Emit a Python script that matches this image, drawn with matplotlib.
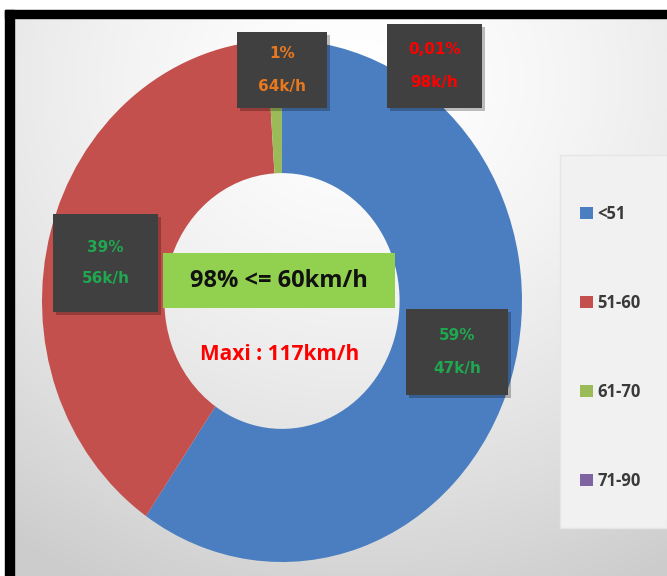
#!/usr/bin/env python3

import numpy as np
import matplotlib
matplotlib.use("Agg")
import matplotlib.pyplot as plt
from matplotlib.patches import Rectangle

# speed classes (km/h) and share of vehicles
classes = ["<51", "51-60", "61-70", "71-90"]
shares = [59, 39, 1, 0.01]
colors = ["#4A7EC0", "#C4504D", "#9BBB59", "#8064A2"]

# data labels: percentage text, mean speed text, text colour
pct_labels = ["59%", "39%", "1%", "0,01%"]
speed_labels = ["47k/h", "56k/h", "64k/h", "98k/h"]
label_colors = ["#1FA84F", "#1FA84F", "#E8791E", "#FF0000"]
# box of each label in pixels (left, top, right, bottom), dragged by hand in the original
label_boxes = [(406, 309, 508, 395), (53, 214, 158, 312), (237, 32, 327, 108), (387, 24, 482, 108)]

W, H = 667, 576
fig = plt.figure(figsize=(W / 100, H / 100), dpi=100)


def fx(x):
    return x / W


def fy(y):
    return 1 - y / H


# background gradient
bg = fig.add_axes([0, 0, 1, 1], zorder=0)
yy, xx = np.mgrid[0:H, 0:W]
d = np.sqrt(((xx - 360) / 1.1) ** 2 + (yy - 80) ** 2) / 560
shade = np.clip(1.0 - 0.2 * d ** 1.5, 0.8, 1.0)
bg.imshow(np.dstack([shade] * 3), extent=[0, W, H, 0], aspect="auto")
bg.set_xlim(0, W)
bg.set_ylim(H, 0)
bg.axis("off")

# white margin and thick black frame
fig.patches.append(Rectangle((0, fy(10)), 1, 1, transform=fig.transFigure, color="white", zorder=1))
fig.patches.append(Rectangle((0, 0), fx(5), 1, transform=fig.transFigure, color="white", zorder=1))
fig.patches.append(Rectangle((fx(5), 0), fx(9), fy(10), transform=fig.transFigure, color="black", zorder=1))
fig.patches.append(Rectangle((fx(5), fy(18)), 1, fy(10) - fy(18), transform=fig.transFigure, color="black", zorder=1))

# legend panel
fig.patches.append(Rectangle((fx(560), fy(528)), fx(667 - 560), fy(155) - fy(528),
                             transform=fig.transFigure, facecolor="#F1F1F1", edgecolor="#E6E6E6", zorder=1))

# donut (slightly taller than wide in the original)
cx, cy, rx, ry = 282, 301, 240, 261
ax = fig.add_axes([fx(cx - rx), fy(cy + ry), 2 * rx / W, 2 * ry / H], zorder=2)
wedges, _ = ax.pie(shares, colors=colors, startangle=90, counterclock=False, radius=1,
                   wedgeprops=dict(width=0.51, linewidth=0))
ax.set_aspect("auto")
ax.set_xlim(-1, 1)
ax.set_ylim(-1, 1)
ax.axis("off")

# label boxes
for pct, spd, col, (l, t, r, b) in zip(pct_labels, speed_labels, label_colors, label_boxes):
    fig.patches.append(Rectangle((fx(l + 3), fy(b + 3)), fx(r - l), fy(t) - fy(b),
                                 transform=fig.transFigure, facecolor="#000000", alpha=0.25,
                                 edgecolor="none", zorder=3))
    fig.patches.append(Rectangle((fx(l), fy(b)), fx(r - l), fy(t) - fy(b),
                                 transform=fig.transFigure, facecolor="#404040", edgecolor="none", zorder=4))
    xm = (l + r) / 2
    ym = (t + b) / 2
    fig.text(fx(xm), fy(ym - 16), pct, color=col, fontsize=11, fontweight="bold",
             ha="center", va="center", zorder=5)
    fig.text(fx(xm), fy(ym + 16), spd, color=col, fontsize=11, fontweight="bold",
             ha="center", va="center", zorder=5)

# centre annotations
fig.patches.append(Rectangle((fx(163), fy(308)), fx(395 - 163), fy(253) - fy(308),
                             transform=fig.transFigure, facecolor="#92D050", edgecolor="none", zorder=4))
fig.text(fx(279), fy(281), "98% <= 60km/h", fontsize=17, fontweight="bold", family="Open Sans",
         color="#111111", ha="center", va="center", zorder=5)
fig.text(fx(280), fy(355), "Maxi : 117km/h", fontsize=15, fontweight="bold", family="Open Sans",
         color="#FF0000", ha="center", va="center", zorder=5)

# legend
leg = fig.legend(wedges, classes, loc="upper left", bbox_to_anchor=(fx(565), fy(190)),
                 frameon=False, prop=dict(family="Open Sans", weight="bold", size=12),
                 labelspacing=4.25, handlelength=0.75, handleheight=0.75, handletextpad=0.3)
for txt in leg.get_texts():
    txt.set_color("#3A3A3A")
leg.set_zorder(5)

fig.savefig("out.png", dpi=100)
